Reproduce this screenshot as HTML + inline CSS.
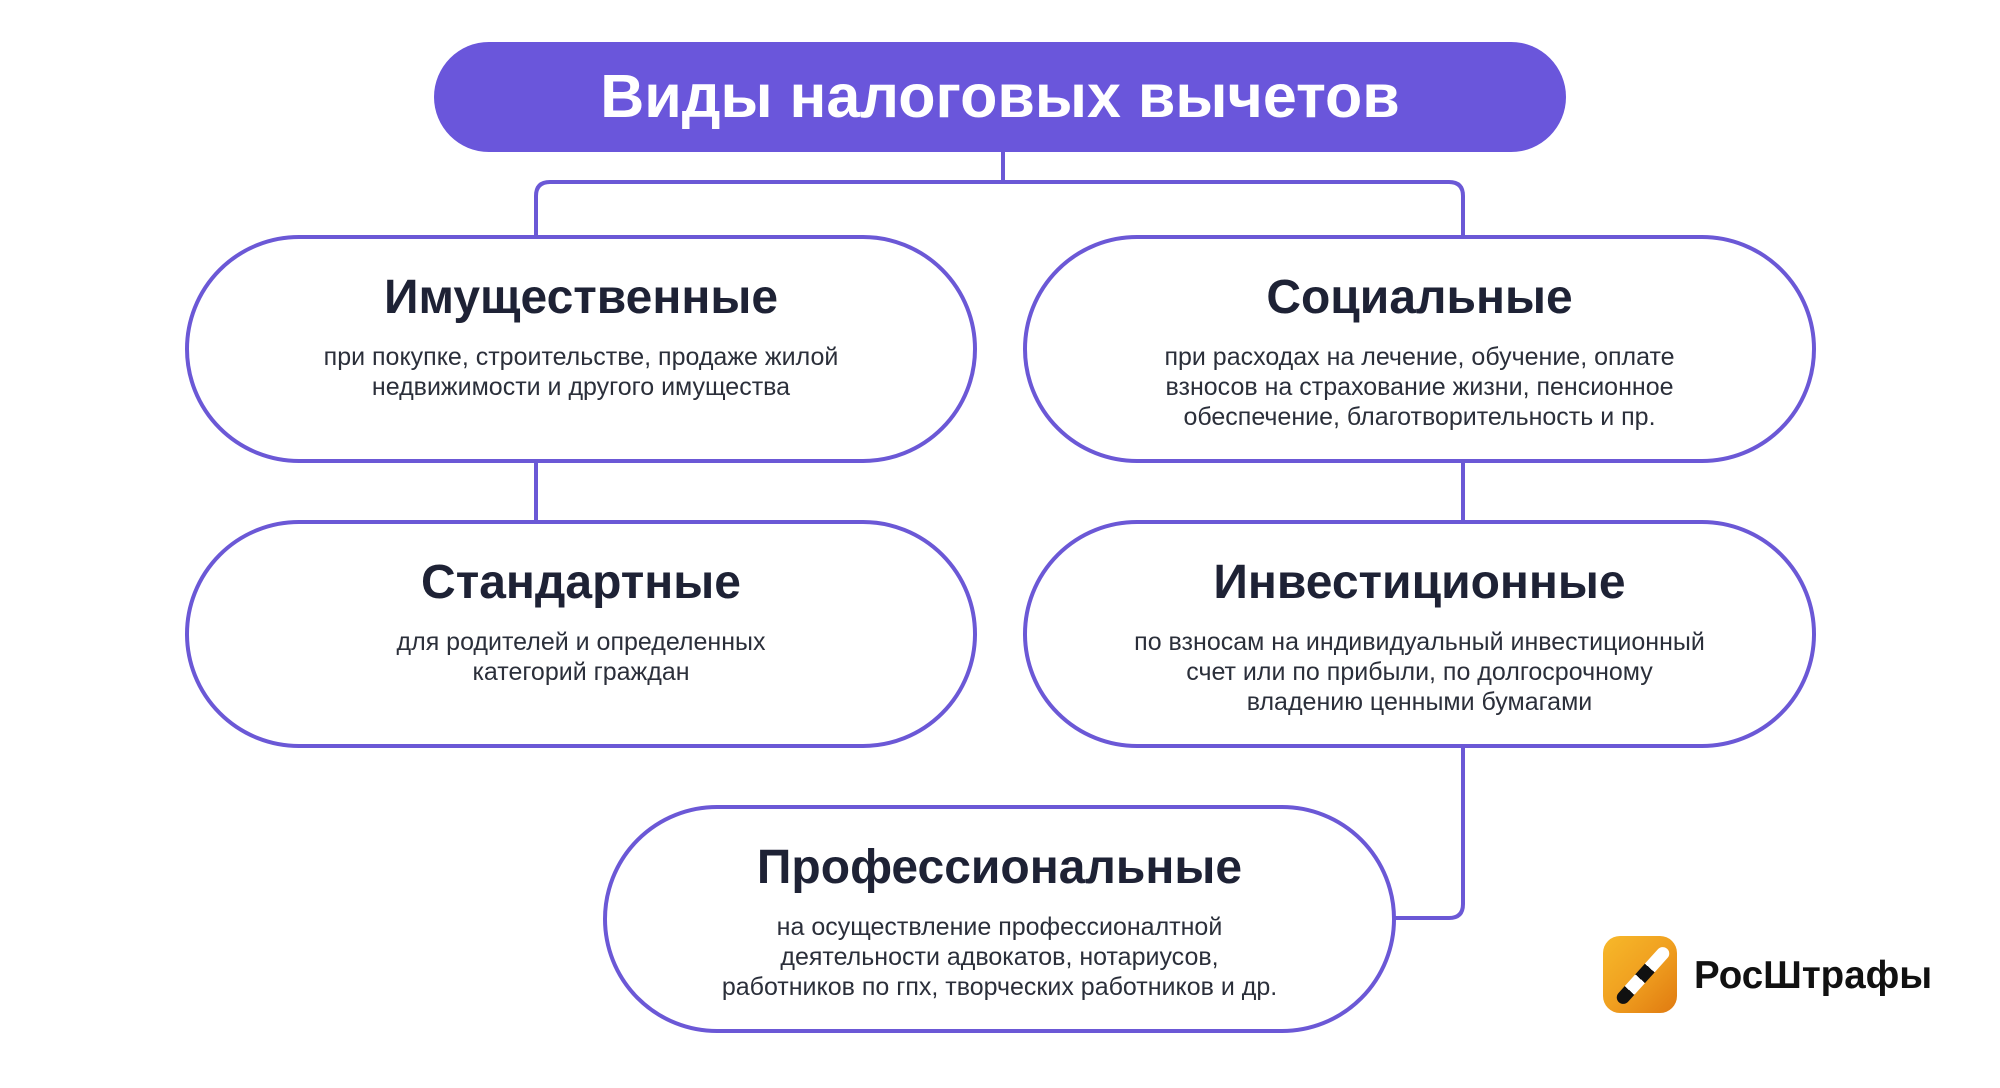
<!DOCTYPE html>
<html><head><meta charset="utf-8"><style>
html,body{margin:0;padding:0;background:#fff;}
body{width:2000px;height:1088px;position:relative;overflow:hidden;font-family:"Liberation Sans","DejaVu Sans",sans-serif;}
.box{position:absolute;box-sizing:border-box;border:4px solid #6b58d6;border-radius:120px;background:#fff;text-align:center;}
.box h2{margin:0;position:absolute;left:0;right:0;top:31px;font-size:48px;font-weight:bold;color:#1e2235;}
.box p{margin:0;position:absolute;left:0;right:0;top:103px;font-size:25px;line-height:30px;color:#2b2f3a;}
</style></head><body>
<svg width="2000" height="1088" style="position:absolute;left:0;top:0" fill="none" stroke="#6b58d6" stroke-width="4">
<path d="M1003 150 V182"/>
<path d="M536 236 V196 Q536 182 550 182 H1449 Q1463 182 1463 196 V236"/>
<path d="M536 460 V522"/>
<path d="M1463 460 V522"/>
<path d="M1463 745 V904 Q1463 918 1449 918 H1393"/>
</svg>
<div style="position:absolute;left:434px;top:42px;width:1132px;height:110px;border-radius:55px;background:#6a56db;color:#fff;font-weight:bold;font-size:61px;text-align:center;line-height:108px;">Виды налоговых вычетов</div>

<div class="box" style="left:185px;top:235px;width:792px;height:228px;">
<h2>Имущественные</h2>
<p>при покупке, строительстве, продаже жилой<br>недвижимости и другого имущества</p></div>

<div class="box" style="left:1023px;top:235px;width:793px;height:228px;">
<h2>Социальные</h2>
<p>при расходах на лечение, обучение, оплате<br>взносов на страхование жизни, пенсионное<br>обеспечение, благотворительность и пр.</p></div>

<div class="box" style="left:185px;top:520px;width:792px;height:228px;">
<h2>Стандартные</h2>
<p>для родителей и определенных<br>категорий граждан</p></div>

<div class="box" style="left:1023px;top:520px;width:793px;height:228px;">
<h2>Инвестиционные</h2>
<p>по взносам на индивидуальный инвестиционный<br>счет или по прибыли, по долгосрочному<br>владению ценными бумагами</p></div>

<div class="box" style="left:603px;top:805px;width:793px;height:228px;">
<h2>Профессиональные</h2>
<p>на осуществление профессионалтной<br>деятельности адвокатов, нотариусов,<br>работников по гпх, творческих работников и др.</p></div>

<div style="position:absolute;left:1603px;top:936px;width:74px;height:77px;border-radius:17px;background:linear-gradient(135deg,#f7b92a,#f0a020 50%,#e07a10);overflow:hidden;">
<div style="position:absolute;left:4px;top:33px;width:72px;height:13px;border-radius:7px;transform:rotate(-48deg);background:linear-gradient(90deg,#111 0 22%,#fff 22% 44%,#111 44% 64%,#fff 64% 100%);"></div>
</div>
<div style="position:absolute;left:1694px;top:954px;font-size:38.5px;font-weight:bold;color:#111;">РосШтрафы</div>
</body></html>
